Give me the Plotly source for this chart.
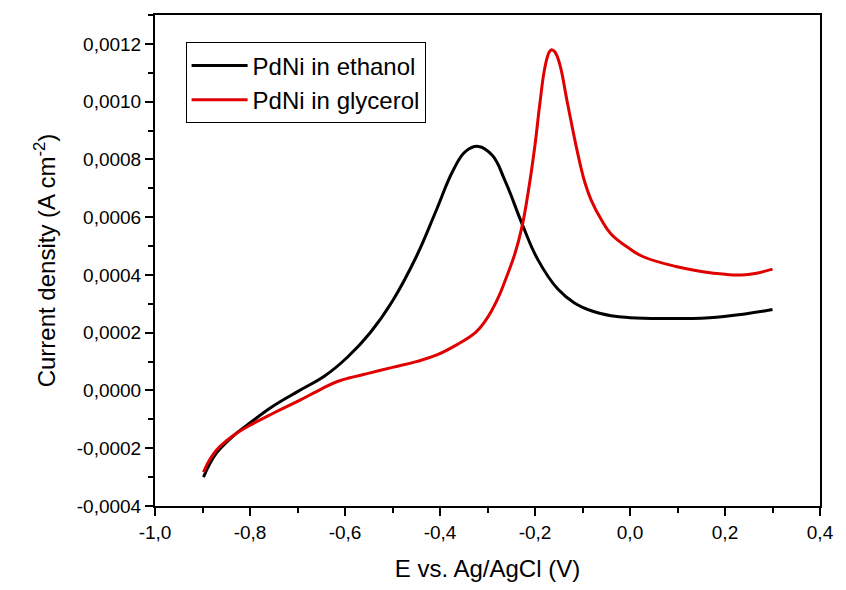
import plotly.graph_objects as go

eth_x = [-0.898, -0.885, -0.870, -0.850, -0.830, -0.803, -0.755, -0.699, -0.643, -0.595, -0.547,
         -0.500, -0.450, -0.408, -0.373, -0.346, -0.319, -0.290, -0.263, -0.227, -0.194, -0.152,
         -0.117, -0.080, -0.040, 0.000, 0.064, 0.167, 0.242, 0.300]
eth_y = [-0.000300, -0.000255, -0.000215, -0.000180, -0.000150, -0.000116, -0.000058, -0.000003,
         0.000050, 0.000115, 0.000200, 0.000310, 0.000463, 0.000623, 0.000760, 0.000828, 0.000845,
         0.000814, 0.000726, 0.000576, 0.000453, 0.000351, 0.000303, 0.000275, 0.000259, 0.000252,
         0.000249, 0.000252, 0.000265, 0.000280]

gly_x = [-0.898, -0.885, -0.870, -0.850, -0.830, -0.803, -0.750, -0.699, -0.650, -0.616, -0.580,
         -0.547, -0.500, -0.450, -0.408, -0.366, -0.325, -0.305, -0.290, -0.275, -0.263, -0.242,
         -0.227, -0.215, -0.200, -0.190, -0.179, -0.170, -0.165, -0.158, -0.148, -0.132, -0.111,
         -0.095, -0.082, -0.060, -0.040, 0.000, 0.028, 0.097, 0.150, 0.201, 0.235, 0.263, 0.300]
gly_y = [-0.000283, -0.000240, -0.000205, -0.000175, -0.000150, -0.000123, -0.000078, -0.000037,
         0.000005, 0.000031, 0.000048, 0.000061, 0.000080, 0.000100, 0.000122, 0.000157, 0.000201,
         0.000240, 0.000280, 0.000330, 0.000380, 0.000475, 0.000570, 0.000680, 0.000850, 0.000990,
         0.001120, 0.001172, 0.001180, 0.001172, 0.001130, 0.000998, 0.000828, 0.000720, 0.000660,
         0.000590, 0.000542, 0.000490, 0.000463, 0.000429, 0.000412, 0.000402, 0.000400, 0.000405,
         0.000420]

x_tickvals = [-1.0, -0.8, -0.6, -0.4, -0.2, 0.0, 0.2, 0.4]
x_ticktext = ["-1,0", "-0,8", "-0,6", "-0,4", "-0,2", "0,0", "0,2", "0,4"]
y_tickvals = [-0.0004, -0.0002, 0.0, 0.0002, 0.0004, 0.0006, 0.0008, 0.0010, 0.0012]
y_ticktext = ["-0,0004", "-0,0002", "0,0000", "0,0002", "0,0004", "0,0006", "0,0008", "0,0010", "0,0012"]

fig = go.Figure()
fig.add_trace(go.Scatter(x=eth_x, y=eth_y, mode="lines", name="PdNi in ethanol",
                         line=dict(color="black", width=3, shape="spline", smoothing=1.2)))
fig.add_trace(go.Scatter(x=gly_x, y=gly_y, mode="lines", name="PdNi in glycerol",
                         line=dict(color="#e00000", width=3, shape="spline", smoothing=1.2)))

font = "Liberation Sans, Arial, sans-serif"
fig.update_layout(
    width=846, height=590,
    margin=dict(l=155, r=17, t=15, b=77),
    paper_bgcolor="white", plot_bgcolor="white",
    font=dict(family=font, color="black", size=19),
    showlegend=True,
    legend=dict(x=0.046, y=0.944, xanchor="left", yanchor="top",
                bordercolor="black", borderwidth=1, bgcolor="white",
                font=dict(size=24, family=font), tracegroupgap=0, itemwidth=56),
    xaxis=dict(range=[-1.0, 0.4], tickvals=x_tickvals, ticktext=x_ticktext,
               showgrid=False, zeroline=False, showline=True, linecolor="black", linewidth=2,
               mirror=True, ticks="outside", ticklen=8, tickwidth=2, tickcolor="black",
               minor=dict(dtick=0.1, tick0=-1.0, ticks="outside", ticklen=5, tickwidth=2,
                          tickcolor="black", showgrid=False),
               title=dict(text="E vs. Ag/AgCl (V)", font=dict(size=24), standoff=18),
               tickfont=dict(size=19)),
    yaxis=dict(range=[-0.0004, 0.0013], tickvals=y_tickvals, ticktext=y_ticktext,
               showgrid=False, zeroline=False, showline=True, linecolor="black", linewidth=2,
               mirror=True, ticks="outside", ticklen=8, tickwidth=2, tickcolor="black",
               minor=dict(dtick=0.0001, tick0=0, ticks="outside", ticklen=5, tickwidth=2,
                          tickcolor="black", showgrid=False),
               title=dict(text="Current density (A cm<sup>-2</sup>)", font=dict(size=24), standoff=14),
               tickfont=dict(size=19)),
)

fig.write_html("out.html")
